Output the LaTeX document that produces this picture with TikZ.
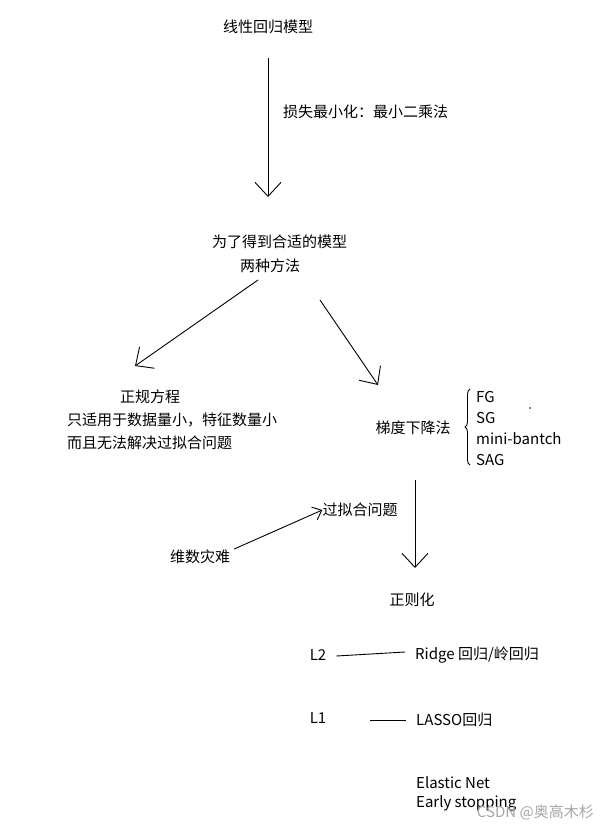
\documentclass[tikz,border=0pt]{standalone}
\usepackage{fontspec}
\setmainfont{Noto Sans CJK SC}
\usetikzlibrary{arrows.meta, decorations.pathreplacing}

\begin{document}
\begin{tikzpicture}[x=1pt,y=-1pt,
  txt/.style={font=\fontsize{15}{18}\selectfont, inner sep=0pt},
  arr/.style={line width=0.9pt, -{Straight Barb[length=14pt,width=26pt]}},
  link/.style={line width=0.9pt}]
\useasboundingbox (0,0) rectangle (606,828);

\node[txt] (lin) at (268,27) {线性回归模型};
\coordinate (a1) at (268,58);
\coordinate (a2) at (268,197);
\draw[arr] (a1) -- (a2);
\node[txt, anchor=west] (loss) at (283,112) {损失最小化：最小二乘法};

\node[txt, anchor=west] (goal) at (212,242) {为了得到合适的模型};
\node[txt, anchor=west] (two) at (240,266) {两种方法};
\coordinate (l1) at (258,280);
\coordinate (l2) at (135,366);
\draw[arr] (l1) -- (l2);
\coordinate (r1) at (320,300);
\coordinate (r2) at (378,385);
\draw[arr] (r1) -- (r2);

\node[txt] (norm) at (150,397) {正规方程};
\node[txt, anchor=west] (n1) at (67,420) {只适用于数据量小，特征数量小};
\node[txt, anchor=west] (n2) at (67,443) {而且无法解决过拟合问题};

\node[txt] (gd) at (413,428) {梯度下降法};
\draw[link, decorate, decoration={brace, amplitude=5pt}] (470,465) -- (470,389);
\node[txt, anchor=west] (fg) at (476,397) {FG};
\node[txt, anchor=west] (sg) at (476,418) {SG};
\node[txt, anchor=west] (mb) at (476,439) {mini-bantch};
\node[txt, anchor=west] (sag) at (476,460) {SAG};
\fill (530,408) circle (0.8pt);

\coordinate (d1) at (415,480);
\coordinate (d2) at (415,568);
\draw[arr] (d1) -- (d2);

\node[txt] (over) at (360,510) {过拟合问题};
\node[txt] (curse) at (200,557) {维数灾难};
\draw[link, -{Straight Barb[length=8pt,width=14pt]}] (curse.east) ++(4,-8) -- (over.west);

\node[txt] (reg) at (412,600) {正则化};

\node[txt] (l2) at (318,655) {L2};
\node[txt, anchor=west] (ridge) at (415,655) {Ridge 回归/岭回归};
\draw[link] (l2.east) ++(10,1) -- ([xshift=-10pt,yshift=3pt]ridge.west);

\node[txt] (l1n) at (318,718) {L1};
\node[txt, anchor=west] (lasso) at (416,720) {LASSO回归};
\draw[link] (370,720) -- ([xshift=-10pt]lasso.west);

\node[txt, anchor=west] (en) at (416,783) {Elastic Net};
\node[txt, anchor=west] (es) at (416,803) {Early stopping};
\node[txt, anchor=east, text=gray!70] (wm) at (594,812) {CSDN @奥高木杉};
\end{tikzpicture}
\end{document}
